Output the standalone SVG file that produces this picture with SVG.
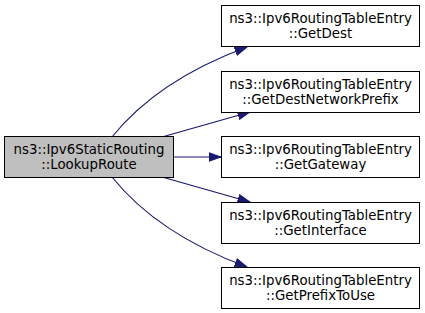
<svg xmlns="http://www.w3.org/2000/svg" width="425" height="313" viewBox="0 0 425 313">
<style>
.box{fill:#ffffff;stroke:#000000;stroke-width:1}
.main{fill:#bfbfbf;stroke:#000000;stroke-width:1}
text{font-family:"DejaVu Sans","Liberation Sans",sans-serif;font-size:13.33px;fill:#000000;text-anchor:middle}
.edge{fill:none;stroke:#191970;stroke-width:1.2}
</style>
<defs>
<marker id="arr" markerUnits="userSpaceOnUse" markerWidth="14" markerHeight="10" refX="12.5" refY="4.75" orient="auto">
<path d="M0.5,0.5 L12.5,4.75 L0.5,9 Z" fill="#191970" stroke="#191970" stroke-width="1"/>
</marker>
</defs>
<g id="edges">
<path class="edge" d="M112,137 C140,102 185,70 247,47" marker-end="url(#arr)"/>
<path class="edge" d="M162,137 L250,112" marker-end="url(#arr)"/>
<path class="edge" d="M173,157 L221,157" marker-end="url(#arr)"/>
<path class="edge" d="M162,177 L250,202" marker-end="url(#arr)"/>
<path class="edge" d="M112,177 C140,212 185,244 247,267" marker-end="url(#arr)"/>
</g>
<g id="node_main">
<rect class="main" x="4.5" y="136.5" width="169" height="41"/>
<text x="89" y="154">ns3::Ipv6StaticRouting</text>
<text x="89" y="169">::LookupRoute</text>
</g>
<g id="node_getdest">
<rect class="box" x="221.5" y="5.5" width="198" height="41"/>
<text x="320.5" y="23">ns3::Ipv6RoutingTableEntry</text>
<text x="320.5" y="38">::GetDest</text>
</g>
<g id="node_getdestnetworkprefix">
<rect class="box" x="221.5" y="71.5" width="198" height="41"/>
<text x="320.5" y="89">ns3::Ipv6RoutingTableEntry</text>
<text x="320.5" y="104">::GetDestNetworkPrefix</text>
</g>
<g id="node_getgateway">
<rect class="box" x="221.5" y="136.5" width="198" height="41"/>
<text x="320.5" y="154">ns3::Ipv6RoutingTableEntry</text>
<text x="320.5" y="169">::GetGateway</text>
</g>
<g id="node_getinterface">
<rect class="box" x="221.5" y="202.5" width="198" height="41"/>
<text x="320.5" y="220">ns3::Ipv6RoutingTableEntry</text>
<text x="320.5" y="235">::GetInterface</text>
</g>
<g id="node_getprefixtouse">
<rect class="box" x="221.5" y="267.5" width="198" height="41"/>
<text x="320.5" y="285">ns3::Ipv6RoutingTableEntry</text>
<text x="320.5" y="300">::GetPrefixToUse</text>
</g>
</svg>
